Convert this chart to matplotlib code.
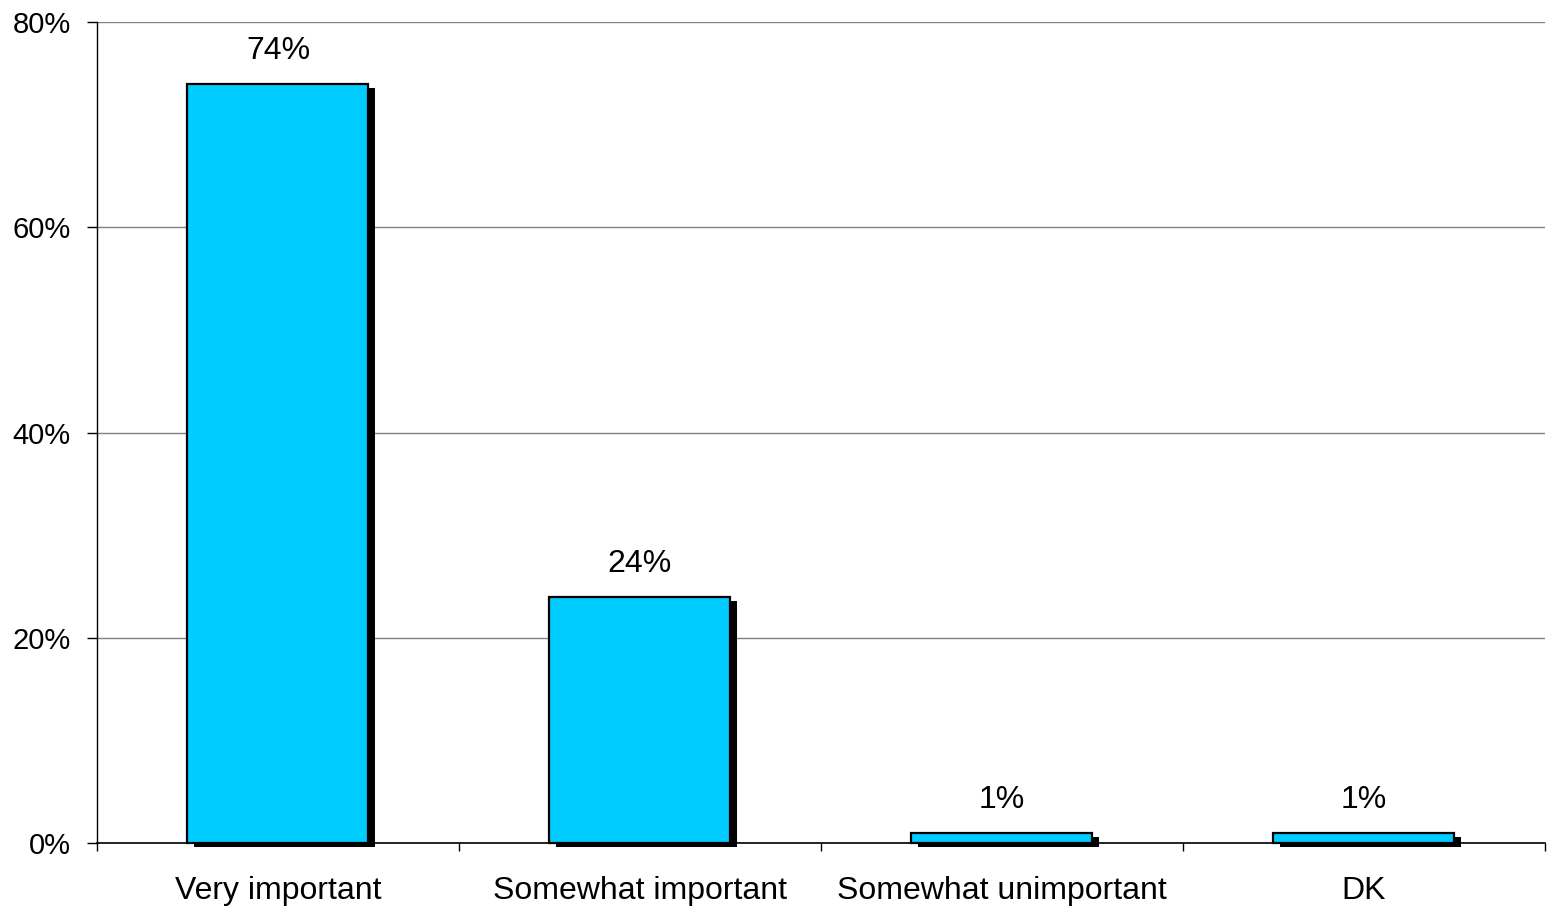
import matplotlib.pyplot as plt
import matplotlib.patheffects as pe
import numpy as np
from matplotlib.ticker import FixedLocator, PercentFormatter

categories = ["Very important", "Somewhat important", "Somewhat unimportant", "DK"]
values = [74, 24, 1, 1]
value_labels = ["74%", "24%", "1%", "1%"]
y_ticks = [0, 20, 40, 60, 80]

BAR_COLOR = "#00CCFF"

plt.rcParams.update({
    "font.family": ["Liberation Sans", "DejaVu Sans"],
    "font.size": 21,
})

fig = plt.figure(figsize=(15.49, 9.10), dpi=100)
ax = fig.add_axes([0.0626, 0.0736, 0.9348, 0.9022])

x = np.arange(len(categories))
bars = ax.bar(x, values, width=0.5, color=BAR_COLOR, edgecolor="black",
              linewidth=1.6, zorder=3)
for b in bars:
    b.set_clip_on(False)
    b.set_path_effects([
        pe.SimplePatchShadow(offset=(5, -3), shadow_rgbFace="black", alpha=1.0),
        pe.Normal(),
    ])

for xi, v, lab in zip(x, values, value_labels):
    ax.annotate(lab, (xi, v), xytext=(0, 13), textcoords="offset points",
                ha="center", va="bottom", fontsize=23)

ax.set_xlim(-0.5, len(categories) - 0.5)
ax.set_ylim(0, 80)

ax.set_yticks(y_ticks)
ax.yaxis.set_major_formatter(PercentFormatter(decimals=0))
ax.yaxis.grid(True, color="#808080", linewidth=1.0, zorder=0)
ax.set_axisbelow(True)

ax.set_xticks(x)
ax.set_xticklabels(categories, fontsize=23)
ax.xaxis.set_minor_locator(FixedLocator(np.arange(len(categories) + 1) - 0.5))
ax.tick_params(axis="x", which="major", length=0, pad=24)
ax.tick_params(axis="x", which="minor", length=6, width=1, direction="out")
ax.tick_params(axis="y", length=7, width=1, direction="out", pad=12)

for side in ("top", "right"):
    ax.spines[side].set_visible(False)
ax.spines["left"].set_linewidth(1.0)
ax.spines["bottom"].set_linewidth(1.2)

fig.savefig("out.png", dpi=100)
